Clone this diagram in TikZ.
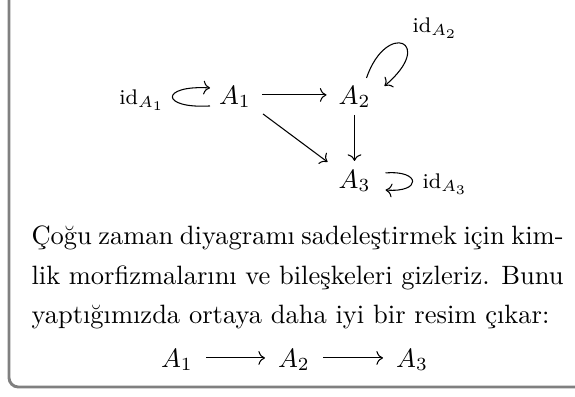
\documentclass[tikz,border=0pt]{standalone}
\usepackage{fontspec}
\usetikzlibrary{arrows.meta}
\definecolor{framegray}{RGB}{128,128,128}
\newcommand\pxu{0.3774pt}
\begin{document}
\begin{tikzpicture}[x=0.3774pt,y=-0.3774pt,
  obj/.style={inner sep=0pt, text depth=0pt, anchor=base},
  cdarr/.style={-{Computer Modern Rightarrow}, line width=0.4pt},
  lbl/.style={inner sep=0pt, font=\footnotesize},
  txt/.style={inner sep=0pt, anchor=base west},
  frameline/.style={draw=framegray, line width=1.1pt, rounded corners=3.5pt}]
\useasboundingbox (0,0) rectangle (575,396);
% frame
\coordinate (ftop) at (9,-5);
\coordinate (fcorner) at (9,387);
\coordinate (fright) at (580,387);
\draw[frameline] (ftop) -- (fcorner) -- (fright);
% diagram objects
\node[obj] (a1) at (235,104) {$A_1$};
\node[obj] (a2) at (354.5,104) {$A_2$};
\node[obj] (a3) at (354.5,188) {$A_3$};
% labels
\node[lbl, anchor=base east] (l1) at (165,104) {$\mathrm{id}_{A_1}$};
\node[lbl, anchor=base west] (l2) at (412,32) {$\mathrm{id}_{A_2}$};
\node[lbl, anchor=base west] (l3) at (422,188) {$\mathrm{id}_{A_3}$};
% arrows
\draw[cdarr, shorten <=27*\pxu, shorten >=28*\pxu] (a1.center) -- (a2.center);
\draw[cdarr, shorten <=20*\pxu, shorten >=18*\pxu] (a2.center) -- (a3.center);
\draw[cdarr] ([shift={(28,19)}]a1.center) -- ([shift={(-27,-17)}]a3.center);
% loops
\draw[cdarr] ([shift={(-25,11)}]a1.center) .. controls +(-50,3) and +(-50,-3) .. ([shift={(-25,-7)}]a1.center);
\draw[cdarr] ([shift={(12,-17)}]a2.center) .. controls +(20,-58) and +(52,-44) .. ([shift={(30,-9)}]a2.center);
\draw[cdarr] ([shift={(31,-6)}]a3.center) .. controls +(36,-3) and +(36,3) .. ([shift={(31,11)}]a3.center);
% text
\node[txt] (t1) at (31,244) {\makebox[200.8pt][s]{Çoğu zaman diyagramı sadeleştirmek için kim-}};
\node[txt] (t2) at (31,284) {\makebox[200.8pt][s]{lik morfizmalarını ve bileşkeleri gizleriz. Bunu}};
\node[txt] (t3) at (31,323.5) {yaptığımızda ortaya daha iyi bir resim çıkar:};
% bottom row
\node[obj] (b1) at (177,367) {$A_1$};
\node[obj] (b2) at (294,367) {$A_2$};
\node[obj] (b3) at (412,367) {$A_3$};
\draw[cdarr, shorten <=29*\pxu, shorten >=29*\pxu] (b1.center) -- (b2.center);
\draw[cdarr, shorten <=29*\pxu, shorten >=29*\pxu] (b2.center) -- (b3.center);
\end{tikzpicture}
\end{document}
